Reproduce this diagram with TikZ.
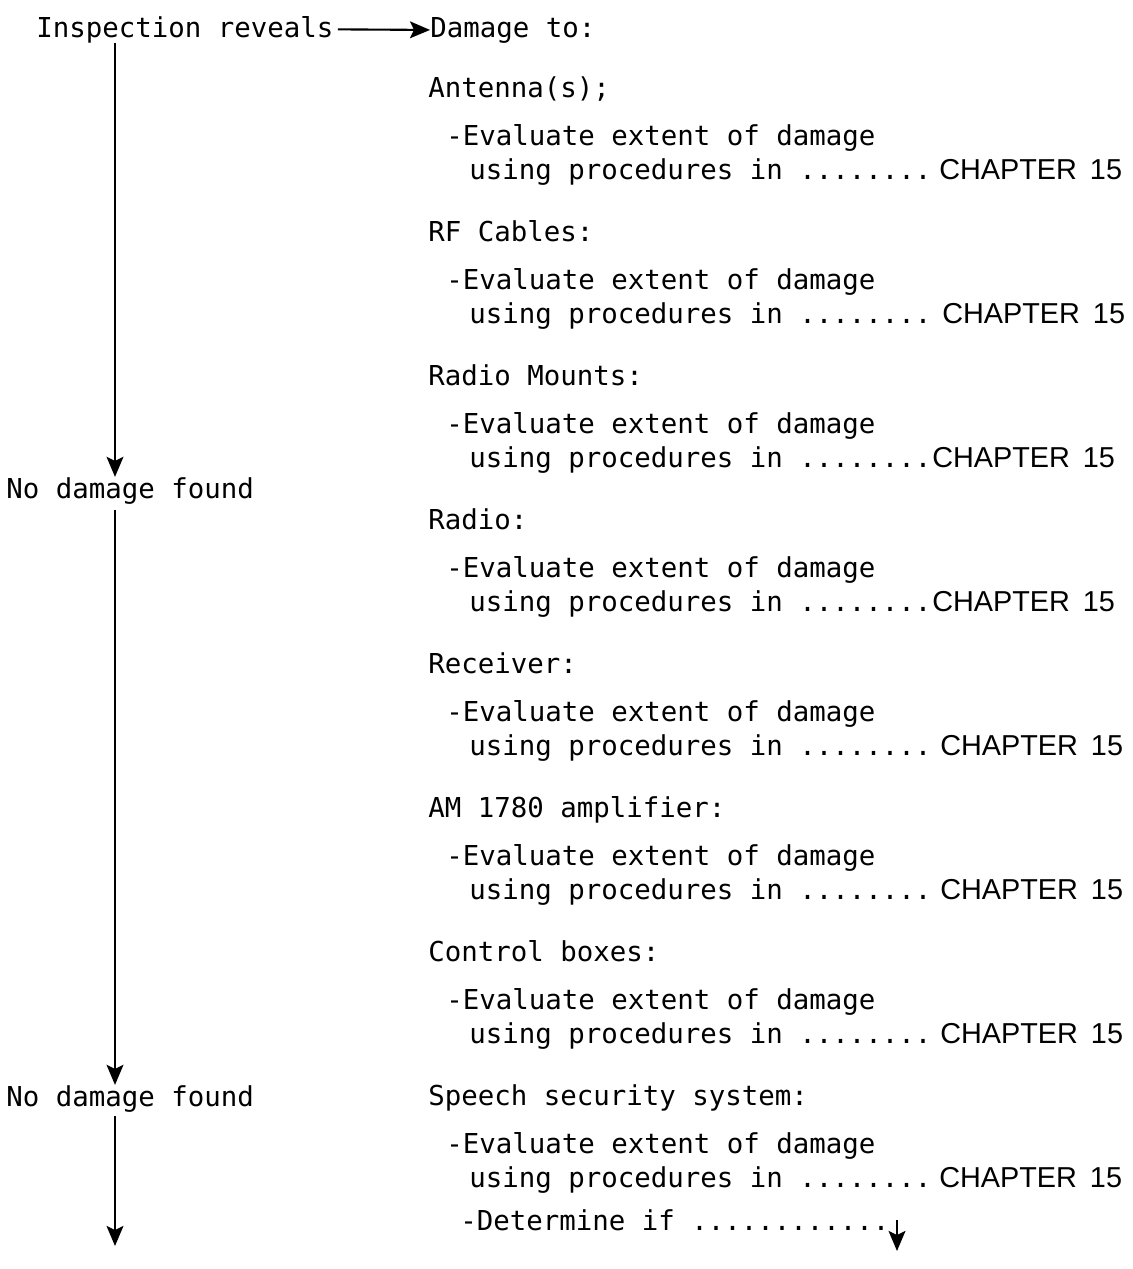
\documentclass[tikz,border=0pt]{standalone}
\usepackage{fontspec}
\setmainfont{DejaVu Sans Mono}
\newfontfamily\chapfont{Liberation Sans}
\usetikzlibrary{arrows.meta}
\tikzset{
	txt/.style={anchor=base west, inner sep=0pt, font=\fontsize{19.5}{23}\selectfont},
	chap/.style={anchor=base west, inner sep=0pt, font=\fontsize{20.5}{24}\chapfont},
	flow/.style={line width=1.5pt, -{Stealth[length=0.5cm, width=0.42cm, inset=0.1cm]}}
}
\begin{document}
\begin{tikzpicture}[x=0.025cm, y=-0.025cm]
	\useasboundingbox (0,0) rectangle (1132,1269);
	\node[txt] (insp) at (36,37) {Inspection reveals};
	\node[txt] (dmg) at (430,37) {Damage to:};
	\node[txt] (nd1) at (6,498) {No damage found};
	\node[txt] (nd2) at (6,1106) {No damage found};
	\foreach \head/\cx [count=\i] in {{Antenna(s);}/939, {RF Cables:}/942, {Radio Mounts:}/932, {Radio:}/932, {Receiver:}/940, {AM 1780 amplifier:}/940, {Control boxes:}/940, {Speech security system:}/939} {
		\pgfmathsetmacro\yb{97+144*(\i-1)}
		\node[txt] (head\i) at (428,\yb) {\head};
		\node[txt] (eval\i) at (446,\yb+48) {-Evaluate extent of damage};
		\node[txt] (use\i) at (469,\yb+82) {using procedures in ........};
		\node[chap] (chap\i) at (\cx,\yb+82) {CHAPTER\hspace{0.45em}15};
	}
	\node[txt] (det) at (460,1230) {-Determine if ............};
	\coordinate (trunk) at (115,0);
	\coordinate (bottom) at (115,1246);
	\coordinate (detend) at (897,1251);
	\draw[flow] (insp.east) ++(3pt,0) -- (dmg.west);
	\draw[flow] (insp.south -| trunk) -- (nd1.north -| trunk);
	\draw[flow] ([yshift=-4pt]nd1.south -| trunk) -- (nd2.north -| trunk);
	\draw[flow] ([yshift=-3pt]nd2.south -| trunk) -- (bottom);
	\draw[flow] (det.east -| detend) -- (detend);
\end{tikzpicture}
\end{document}
